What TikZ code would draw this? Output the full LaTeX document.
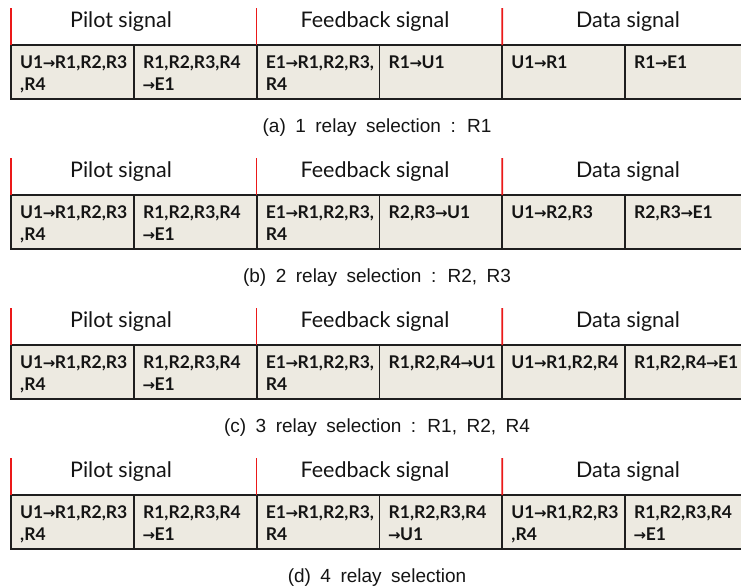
\documentclass[tikz,border=0pt]{standalone}
\usepackage{fontspec}
\setmainfont{Lato}
\newfontfamily\capfont{Liberation Sans}
\newfontfamily\arrowfont{DejaVu Sans}
\usetikzlibrary{calc}

\definecolor{cellfill}{RGB}{237,234,225}
\definecolor{gridline}{RGB}{30,30,30}
\definecolor{markred}{RGB}{235,25,25}
\definecolor{inktext}{RGB}{20,20,20}

% small right arrow used inside the cells
\newcommand\toarrow{{\arrowfont\fontsize{15}{15}\selectfont\bfseries\kern-0.5pt→\kern-0.5pt}}
% caption text with widened word gaps
\newcommand\captionline[1]{{\capfont\fontsize{19}{22}\selectfont\spaceskip=9.5pt\relax #1}}
% two-line cell text
\newcommand\celllines[1]{\begin{tabular}[t]{@{}l@{}}#1\end{tabular}}

% one slot table: #1 prefix, #2 vertical offset, #3-#8 cell texts, #9 caption
\newcommand\relayblock[9]{%
  \begin{scope}[shift={(0,#2)}]
    % header labels
    \node[headtext] (#1hp) at (121,27)   {Pilot signal};
    \node[headtext] (#1hf) at (375,27)   {Feedback signal};
    \node[headtext] (#1hd) at (628,27)   {Data signal};
    % cells
    \node[cell] (#1c1) at (72.4,72)  {};
    \node[cell] (#1c2) at (195.2,72) {};
    \node[cell] (#1c3) at (318.0,72) {};
    \node[cell] (#1c4) at (440.8,72) {};
    \node[cell] (#1c5) at (563.6,72) {};
    \node[cell] (#1c6) at (686.4,72) {};
    \node[celltext] (#1t1) at ($(#1c1.north west)+(9,23)$) {\celllines{#3}};
    \node[celltext] (#1t2) at ($(#1c2.north west)+(9,23)$) {\celllines{#4}};
    \node[celltext] (#1t3) at ($(#1c3.north west)+(9,23)$) {\celllines{#5}};
    \node[celltext] (#1t4) at ($(#1c4.north west)+(9,23)$) {\celllines{#6}};
    \node[celltext] (#1t5) at ($(#1c5.north west)+(9,23)$) {\celllines{#7}};
    \node[celltext] (#1t6) at ($(#1c6.north west)+(9,23)$) {\celllines{#8}};
    % red phase markers
    \coordinate (#1m1) at (11,8);
    \coordinate (#1m2) at (256.6,8);
    \coordinate (#1m3) at (502.2,8);
    \draw[redmark] (#1m1) -- (#1c1.north west);
    \draw[redmark] (#1m2) -- (#1c3.north west);
    \draw[redmark] (#1m3) -- (#1c5.north west);
    % caption
    \node[captext] (#1cap) at (377,132) {\captionline{#9}};
  \end{scope}}

\begin{document}
\begin{tikzpicture}[x=1pt,y=-1pt,
  cell/.style={draw=gridline, line width=1.8pt, fill=cellfill,
    minimum width=122.8pt, minimum height=54pt, inner sep=0pt, outer sep=0pt},
  celltext/.style={anchor=base west, inner sep=0pt, text=inktext,
    font=\fontsize{17.5}{22}\selectfont\bfseries},
  headtext/.style={anchor=base, inner sep=0pt, text=inktext,
    font=\fontsize{21.5}{24}\selectfont},
  captext/.style={anchor=base, inner sep=0pt, text=inktext},
  redmark/.style={draw=markred, line width=1.6pt}]
  \clip (0,0) rectangle (741,587);
  \fill[white] (0,0) rectangle (741,587);

  \relayblock{a}{0}
    {U1\toarrow R1,R2,R3\\,R4}{R1,R2,R3,R4\\\toarrow E1}
    {E1\toarrow R1,R2,R3,\\R4}{R1\toarrow U1}
    {U1\toarrow R1}{R1\toarrow E1}
    {(a) 1 relay selection : R1}

  \relayblock{b}{150}
    {U1\toarrow R1,R2,R3\\,R4}{R1,R2,R3,R4\\\toarrow E1}
    {E1\toarrow R1,R2,R3,\\R4}{R2,R3\toarrow U1}
    {U1\toarrow R2,R3}{R2,R3\toarrow E1}
    {(b) 2 relay selection : R2, R3}

  \relayblock{c}{300}
    {U1\toarrow R1,R2,R3\\,R4}{R1,R2,R3,R4\\\toarrow E1}
    {E1\toarrow R1,R2,R3,\\R4}{R1,R2,R4\toarrow U1}
    {U1\toarrow R1,R2,R4}{R1,R2,R4\toarrow E1}
    {(c) 3 relay selection : R1, R2, R4}

  \relayblock{d}{450}
    {U1\toarrow R1,R2,R3\\,R4}{R1,R2,R3,R4\\\toarrow E1}
    {E1\toarrow R1,R2,R3,\\R4}{R1,R2,R3,R4\\\toarrow U1}
    {U1\toarrow R1,R2,R3\\,R4}{R1,R2,R3,R4\\\toarrow E1}
    {(d) 4 relay selection}
\end{tikzpicture}
\end{document}
